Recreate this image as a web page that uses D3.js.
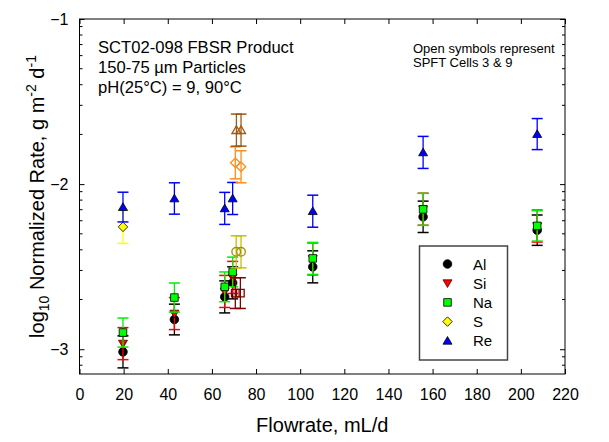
<!DOCTYPE html>
<html>
<head>
<meta charset="utf-8">
<script src="https://cdn.jsdelivr.net/npm/d3@7"></script>
<style>
  html, body { margin: 0; padding: 0; background: #fff; }
  svg { display: block; font-family: "Liberation Sans", Arial, sans-serif; }
</style>
</head>
<body>
<svg id="chart" width="609" height="442"></svg>
<script>
// ---------- data ----------
const xTicks = [0, 20, 40, 60, 80, 100, 120, 140, 160, 180, 200, 220];
const yTicks = [-1, -2, -3];

// filled symbols (flow, log10 rate, error)
const alFlow = [19.7, 43.0, 65.8, 69.4, 105.7, 155.7, 207.4];
const alRate = [-3.016, -2.820, -2.683, -2.598, -2.501, -2.198, -2.279];
const alErr  = [0.097, 0.093, 0.097, 0.097, 0.097, 0.095, 0.092];

const siFlow = [19.7, 43.0, 65.8, 69.4, 105.7, 155.7, 207.4];
const siRate = [-2.966, -2.784, -2.650, -2.565, -2.453, -2.152, -2.254];
const siErr  = [0.097, 0.097, 0.097, 0.097, 0.097, 0.097, 0.097];

const naFlow = [19.7, 43.0, 65.8, 69.4, 105.7, 155.7, 207.4];
const naRate = [-2.899, -2.687, -2.622, -2.532, -2.450, -2.153, -2.253];
const naErr  = [0.088, 0.088, 0.090, 0.090, 0.097, 0.097, 0.092];

const sFlow = [19.7];
const sRate = [-2.259];
const sErr  = [0.100];

const reFlow = [19.7, 43.0, 65.8, 69.4, 105.7, 155.7, 207.4];
const reRate = [-2.139, -2.087, -2.147, -2.087, -2.164, -1.808, -1.697];
const reErr  = [0.090, 0.095, 0.097, 0.097, 0.097, 0.097, 0.094];

// open symbols (SPFT Cells 3 & 9)
const alOpenFlow = [71.0, 73.2];
const alOpenRate = [-2.410, -2.410];
const alOpenErr  = [0.097, 0.097];

const naOpenFlow = [70.6, 72.9];
const naOpenRate = [-2.660, -2.660];
const naOpenErr  = [0.093, 0.093];

const sOpenFlow = [70.6, 73.2];
const sOpenRate = [-1.871, -1.895];
const sOpenErr  = [0.097, 0.097];

const reOpenFlow = [71.1, 73.2];
const reOpenRate = [-1.673, -1.673];
const reOpenErr  = [0.097, 0.097];

const legendNames = ["Al", "Si", "Na", "S", "Re"];

// ---------- layout ----------
const svg = d3.select("#chart");
const L = 79.5, R = 565, T = 19, B = 374;
const x = d3.scaleLinear().domain([0, 220]).range([L, R]);
const y = d3.scaleLinear().domain([-3.15, -1]).range([B, T]);
const FONT = "'Liberation Sans', Arial, sans-serif";

// symbol path generators (centered at 0,0)
const shapes = {
  circle: s => { const r = s / 2; return `M${-r},0A${r},${r} 0 1,0 ${r},0A${r},${r} 0 1,0 ${-r},0Z`; },
  square: s => { const h = s / 2; return `M${-h},${-h}H${h}V${h}H${-h}Z`; },
  triDown: s => { const h = s / 2; return `M${-h},${-h * 0.75}H${h}L0,${h * 0.95}Z`; },
  triUp: s => { const h = s / 2; return `M${-h},${h * 0.75}H${h}L0,${-h * 0.95}Z`; },
  diamond: s => { const h = s / 2; return `M0,${-h}L${h},0L0,${h}L${-h},0Z`; }
};

const series = [
  { flow: alFlow, rate: alRate, err: alErr, shape: "circle", size: 8.6, fill: "#000000", stroke: "#000000", bar: "#000000" },
  { flow: siFlow, rate: siRate, err: siErr, shape: "triDown", size: 9, fill: "#ff0000", stroke: "#4a0000", bar: "#ff0000" },
  { flow: naFlow, rate: naRate, err: naErr, shape: "square", size: 7.6, fill: "#00ff00", stroke: "#000000", bar: "#00ee00" },
  { flow: sFlow, rate: sRate, err: sErr, shape: "diamond", size: 9.5, fill: "#ffff00", stroke: "#000000", bar: "#ffff00" },
  { flow: reFlow, rate: reRate, err: reErr, shape: "triUp", size: 9, fill: "#0000ff", stroke: "#000000", bar: "#0000ff" },
  { flow: naOpenFlow, rate: naOpenRate, err: naOpenErr, shape: "square", size: 7.6, fill: "none", stroke: "#800000", bar: "#800000" },
  { flow: alOpenFlow, rate: alOpenRate, err: alOpenErr, shape: "circle", size: 8.6, fill: "none", stroke: "#a09000", bar: "#c8c000" },
  { flow: sOpenFlow, rate: sOpenRate, err: sOpenErr, shape: "diamond", size: 9.5, fill: "none", stroke: "#ff8c1a", bar: "#ff8c1a" },
  { flow: reOpenFlow, rate: reOpenRate, err: reOpenErr, shape: "triUp", size: 9, fill: "none", stroke: "#a05a14", bar: "#a05a14" }
];

// ---------- axes ----------
function styleAxis(g) {
  g.select(".domain").remove();
  g.selectAll("line").attr("stroke", "#000").attr("stroke-width", 1);
  g.selectAll("text").attr("font-family", FONT).attr("font-size", 16).attr("fill", "#000");
}

svg.append("g").attr("transform", `translate(0,${B})`)
  .call(d3.axisBottom(x).tickValues(xTicks).tickFormat(d3.format("d")).tickSizeInner(-5).tickSizeOuter(0).tickPadding(15))
  .call(styleAxis);
svg.append("g").attr("transform", `translate(0,${T})`)
  .call(d3.axisTop(x).tickValues(xTicks).tickFormat("").tickSizeInner(-5).tickSizeOuter(0))
  .call(styleAxis);
svg.append("g").attr("transform", `translate(${L},0)`)
  .call(d3.axisLeft(y).tickValues(yTicks).tickFormat(d3.format("d")).tickSizeInner(-5).tickSizeOuter(0).tickPadding(11))
  .call(styleAxis);
svg.append("g").attr("transform", `translate(${R},0)`)
  .call(d3.axisRight(y).tickValues(yTicks).tickFormat("").tickSizeInner(-5).tickSizeOuter(0))
  .call(styleAxis);

// minor log ticks
const minor = [];
[-4, -3, -2].forEach(dec => { for (let k = 2; k <= 9; k++) { const v = dec + Math.log10(k); if (v > -3.15 && v < -1) minor.push(v); } });
svg.append("g").selectAll("line.ml").data(minor).join("line")
  .attr("x1", L).attr("x2", L + 3).attr("y1", d => y(d)).attr("y2", d => y(d)).attr("stroke", "#000");
svg.append("g").selectAll("line.mr").data(minor).join("line")
  .attr("x1", R).attr("x2", R - 3).attr("y1", d => y(d)).attr("y2", d => y(d)).attr("stroke", "#000");

// frame
svg.append("rect").attr("x", L).attr("y", T).attr("width", R - L).attr("height", B - T)
  .attr("fill", "none").attr("stroke", "#000").attr("stroke-width", 1);

// ---------- series ----------
const cap = 5.5;
series.forEach(s => {
  const g = svg.append("g");
  const pts = s.flow.map((f, i) => ({ f, r: s.rate[i], e: s.err[i] }));
  const eb = g.selectAll("g.eb").data(pts).join("g");
  eb.append("line").attr("x1", d => x(d.f)).attr("x2", d => x(d.f))
    .attr("y1", d => y(d.r + d.e)).attr("y2", d => y(d.r - d.e)).attr("stroke", s.bar).attr("stroke-width", 1.3);
  eb.append("line").attr("x1", d => x(d.f) - cap).attr("x2", d => x(d.f) + cap)
    .attr("y1", d => y(d.r + d.e)).attr("y2", d => y(d.r + d.e)).attr("stroke", s.bar).attr("stroke-width", 1.5);
  eb.append("line").attr("x1", d => x(d.f) - cap).attr("x2", d => x(d.f) + cap)
    .attr("y1", d => y(d.r - d.e)).attr("y2", d => y(d.r - d.e)).attr("stroke", s.bar).attr("stroke-width", 1.5);
  g.selectAll("path.m").data(pts).join("path")
    .attr("transform", d => `translate(${x(d.f)},${y(d.r)})`)
    .attr("d", shapes[s.shape](s.size))
    .attr("fill", s.fill).attr("stroke", s.stroke).attr("stroke-width", s.fill === "none" ? 1.3 : 0.8);
});

// ---------- annotations ----------
const ann = svg.append("text").attr("font-family", FONT).attr("font-size", 16.6).attr("fill", "#000");
["SCT02-098 FBSR Product", "150-75 µm Particles", "pH(25°C) = 9, 90°C"].forEach((t, i) =>
  ann.append("tspan").attr("x", 98).attr("y", 53 + i * 20).text(t));

const ann2 = svg.append("text").attr("font-family", FONT).attr("font-size", 13).attr("fill", "#000");
["Open symbols represent", "SPFT Cells 3 & 9"].forEach((t, i) =>
  ann2.append("tspan").attr("x", 413).attr("y", 53 + i * 14).text(t));

// ---------- legend ----------
const lg = svg.append("g");
lg.append("rect").attr("x", 419.5).attr("y", 246).attr("width", 88).attr("height", 114)
  .attr("fill", "#fff").attr("stroke", "#444").attr("stroke-width", 1.5);
legendNames.forEach((n, i) => {
  const s = series[i];
  const cy = 264 + i * 19.2;
  lg.append("path").attr("transform", `translate(447.5,${cy})`).attr("d", shapes[s.shape](s.size))
    .attr("fill", s.fill).attr("stroke", s.stroke).attr("stroke-width", 0.8);
  lg.append("text").attr("x", 473).attr("y", cy + 5.5).attr("font-family", FONT).attr("font-size", 15).text(n);
});

// ---------- axis titles ----------
svg.append("text").attr("x", (L + R) / 2).attr("y", 432).attr("text-anchor", "middle")
  .attr("font-family", FONT).attr("font-size", 20).text("Flowrate, mL/d");

const yl = svg.append("text").attr("transform", `translate(44,${(T + B) / 2}) rotate(-90)`)
  .attr("text-anchor", "middle").attr("font-family", FONT).attr("font-size", 20);
yl.append("tspan").text("log");
yl.append("tspan").attr("font-size", 14).attr("dy", 5).text("10");
yl.append("tspan").attr("dy", -5).text(" Normalized Rate, g m");
yl.append("tspan").attr("font-size", 14).attr("dy", -8).text("-2");
yl.append("tspan").attr("dy", 8).text(" d");
yl.append("tspan").attr("font-size", 14).attr("dy", -8).text("-1");
</script>
</body>
</html>
